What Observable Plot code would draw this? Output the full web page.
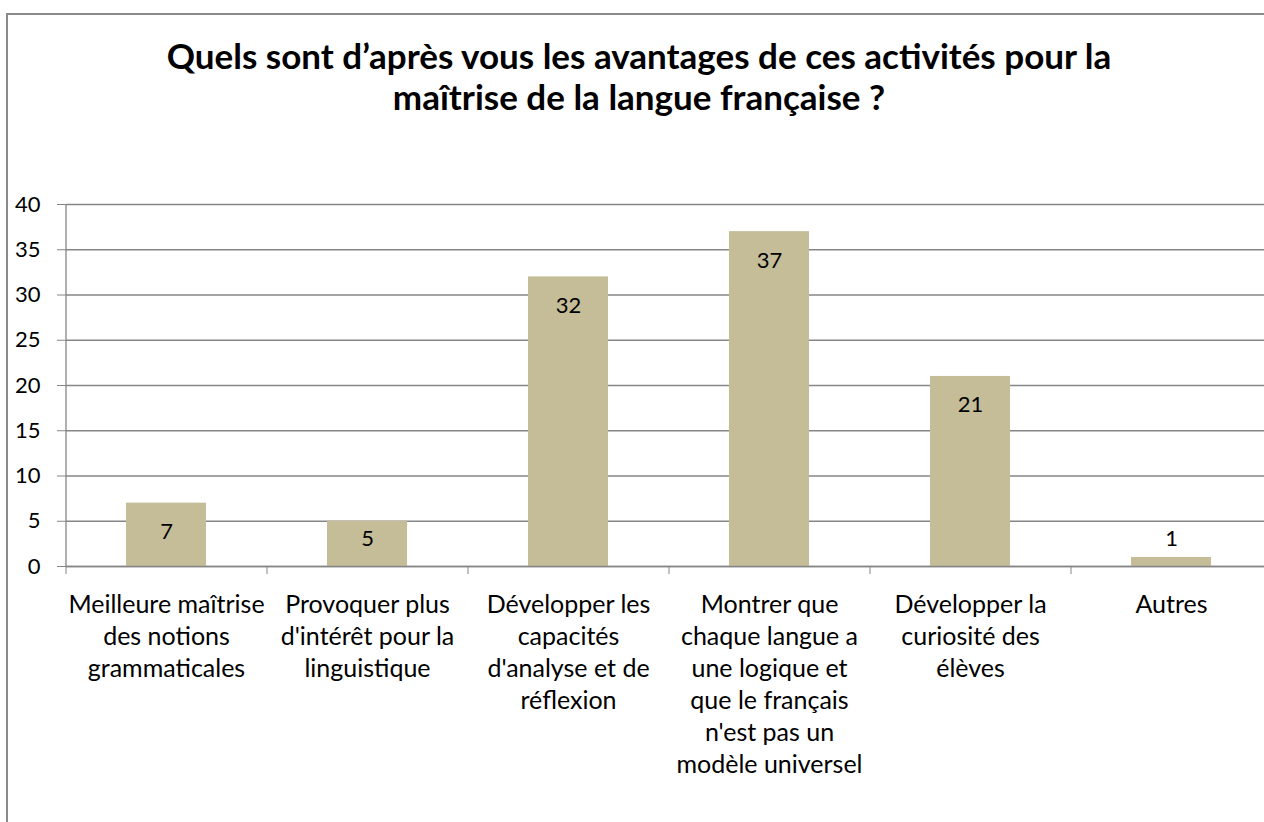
<!DOCTYPE html>
<html><head><meta charset="utf-8">
<script src="https://cdn.jsdelivr.net/npm/d3@7"></script>
<script src="https://cdn.jsdelivr.net/npm/@observablehq/plot@0.6"></script>
<style>
html,body{margin:0;padding:0;background:#fff;overflow:hidden;width:1264px;height:822px}
#frame{position:absolute;left:6px;top:13px;width:1400px;height:1000px;border:2px solid #8a8a8a;}
#title{position:absolute;left:0;top:35px;width:1278px;text-align:center;font-family:Lato;font-weight:bold;font-size:35px;line-height:41px;color:#000;white-space:nowrap}
#chart{position:absolute;left:0;top:0;width:1300px}
#chart svg{max-width:none !important}
</style></head><body>
<div id="frame"></div>
<div id="chart"></div>
<div id="title">Quels sont d’après vous les avantages de ces activités pour la<br>maîtrise de la langue française ?</div>
<script>
const categories = [
  "Meilleure maîtrise\ndes notions\ngrammaticales",
  "Provoquer plus\nd'intérêt pour la\nlinguistique",
  "Développer les\ncapacités\nd'analyse et de\nréflexion",
  "Montrer que\nchaque langue a\nune logique et\nque le français\nn'est pas un\nmodèle universel",
  "Développer la\ncuriosité des\nélèves",
  "Autres"
];
const values = [7, 5, 32, 37, 21, 1];
const yTicks = [0, 5, 10, 15, 20, 25, 30, 35, 40];

const data = categories.map((c, i) => ({category: c, value: values[i]}));
const W = 1300, left = 66, right = 1272;
const step = (right - left) / categories.length;
const grid = "#868686";

const plot = Plot.plot({
  width: W, height: 822,
  marginLeft: left, marginRight: W - right, marginTop: 204, marginBottom: 256,
  style: {fontFamily: "Lato", fontSize: "22px", color: "#000", background: "transparent", overflow: "visible", maxWidth: "none"},
  x: {domain: categories, paddingInner: 0.6, paddingOuter: 0.3, axis: null},
  y: {domain: [0, 40], axis: null},
  marks: [
    Plot.ruleY(yTicks, {stroke: grid, strokeWidth: 1.3}),
    Plot.tickX([categories[0]], {x: d => d, dx: -step / 2, stroke: grid, strokeWidth: 1.3}),
    Plot.axisY({ticks: yTicks, tickSize: 9, tickPadding: 17, stroke: grid, fontSize: 22, label: null, tickFormat: d => String(d)}),
    Plot.barY(data, {x: "category", y: "value", fill: "#c4bd97"}),
    Plot.ruleY([0], {stroke: grid, strokeWidth: 1.3}),
    Plot.axisX({tickSize: 8, dx: -step / 2, stroke: grid, tickFormat: () => "", label: null}),
    Plot.axisX({tickSize: 0, tickPadding: 24, lineHeight: 1.28, fontSize: 25, label: null}),
    Plot.text(data, {x: "category", y: d => Math.max(d.value - 3.2, 3), text: d => String(d.value), fontSize: 22, fill: "#000"})
  ]
});
document.getElementById("chart").appendChild(plot);
</script>
</body></html>
